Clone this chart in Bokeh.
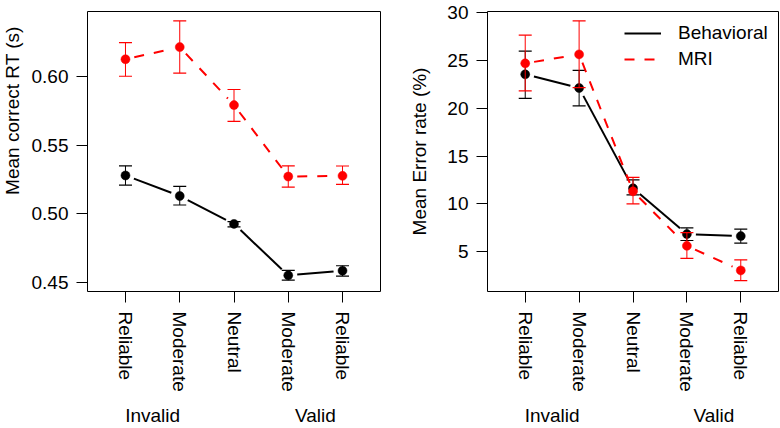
import math
from bokeh.plotting import figure
from bokeh.layouts import row
from bokeh.models import Range1d, FixedTicker, LinearAxis, Legend, LegendItem
from bokeh.core.properties import value
from bokeh.embed import file_html
from bokeh.resources import INLINE

# ---------------- data ----------------
positions = [1, 2, 3, 4, 5]
tick_labels = ["Reliable", "Moderate", "Neutral", "Moderate", "Reliable"]
group_labels = ["Invalid", "Valid"]
group_positions = [1.5, 4.5]

rt_beh = [0.528, 0.513, 0.4926, 0.455, 0.4584]
rt_beh_lo = [0.521, 0.5064, 0.4904, 0.4515, 0.4545]
rt_beh_hi = [0.535, 0.520, 0.4943, 0.4586, 0.462]
rt_mri = [0.6129, 0.6218, 0.5794, 0.5272, 0.5277]
rt_mri_lo = [0.6005, 0.6027, 0.5675, 0.5195, 0.5215]
rt_mri_hi = [0.625, 0.6409, 0.5908, 0.535, 0.5349]

err_beh = [23.56, 22.13, 11.63, 6.83, 6.62]
err_beh_lo = [21.05, 20.25, 10.93, 6.16, 5.89]
err_beh_hi = [25.99, 23.98, 12.5, 7.48, 7.35]
err_mri = [24.71, 25.65, 11.31, 5.6, 3.03]
err_mri_lo = [21.82, 22.17, 9.99, 4.28, 1.95]
err_mri_hi = [27.66, 29.16, 12.77, 6.99, 4.14]

rt_ticks = [0.45, 0.50, 0.55, 0.60]
rt_tick_labels = ["0.45", "0.50", "0.55", "0.60"]
err_ticks = [5, 10, 15, 20, 25, 30]
err_tick_labels = ["5", "10", "15", "20", "25", "30"]

series_names = ["Behavioral", "MRI"]
rt_title = "Mean correct RT (s)"
err_title = "Mean Error rate (%)"

FONT = "Liberation Sans"
FS = "19px"
X_RANGE = (0.3, 5.7)
GAP = 9
HEIGHT = 428
MB_TOP = 11
FRAME_H = 281.0
TITLE_W = 24


def gapped(xs, ys, sx, sy, gap):
    x0, y0, x1, y1 = [], [], [], []
    for i in range(len(xs) - 1):
        dx = (xs[i + 1] - xs[i]) * sx
        dy = (ys[i + 1] - ys[i]) * sy
        L = math.hypot(dx, dy)
        if L <= 2 * gap:
            continue
        f = gap / L
        x0.append(xs[i] + (xs[i + 1] - xs[i]) * f)
        y0.append(ys[i] + (ys[i + 1] - ys[i]) * f)
        x1.append(xs[i + 1] - (xs[i + 1] - xs[i]) * f)
        y1.append(ys[i + 1] - (ys[i + 1] - ys[i]) * f)
    return x0, y0, x1, y1


def panel(width, mb_left, mb_right, y_range, yticks, ylabels, ytitle,
          title_standoff, series, legend):
    frame_w = width - mb_left - mb_right
    p = figure(width=width, height=HEIGHT, output_backend="svg", toolbar_location=None,
               x_range=Range1d(*X_RANGE), y_range=Range1d(*y_range),
               min_border_left=mb_left, min_border_right=mb_right,
               min_border_top=MB_TOP, min_border_bottom=0,
               x_axis_type=None, y_axis_type=None)
    p.grid.visible = False
    p.outline_line_color = "black"
    p.outline_line_width = 1
    p.outline_line_alpha = 1
    p.background_fill_color = "white"
    p.border_fill_color = "white"

    # axes
    xa = LinearAxis(ticker=FixedTicker(ticks=positions),
                    major_label_overrides={v: t for v, t in zip(positions, tick_labels)})
    xa.major_label_orientation = "vertical"
    xa.major_label_standoff = 9
    xa.major_tick_out = 11
    xa.major_tick_in = 0
    xa.minor_tick_out = 0
    xa.minor_tick_in = 0
    xa.axis_line_color = None
    xa.major_tick_line_color = "black"
    xa.major_label_text_font = FONT
    xa.major_label_text_font_size = FS
    xa.major_label_text_color = "black"
    p.add_layout(xa, "below")

    ga = LinearAxis(ticker=FixedTicker(ticks=group_positions),
                    major_label_overrides={v: t for v, t in zip(group_positions, group_labels)})
    ga.major_label_standoff = 10
    ga.major_tick_out = 0
    ga.major_tick_in = 0
    ga.minor_tick_out = 0
    ga.minor_tick_in = 0
    ga.axis_line_color = None
    ga.major_tick_line_color = None
    ga.major_label_text_font = FONT
    ga.major_label_text_font_size = FS
    ga.major_label_text_color = "black"
    p.add_layout(ga, "below")

    ya = LinearAxis(ticker=FixedTicker(ticks=yticks),
                    major_label_overrides={v: t for v, t in zip(yticks, ylabels)})
    if ytitle:
        ya.axis_label = ytitle
    ya.major_label_orientation = "horizontal"
    ya.major_label_standoff = 8
    ya.major_tick_out = 11
    ya.major_tick_in = 0
    ya.minor_tick_out = 0
    ya.minor_tick_in = 0
    ya.axis_line_color = None
    ya.major_tick_line_color = "black"
    ya.major_label_text_font = FONT
    ya.major_label_text_font_size = FS
    ya.major_label_text_color = "black"
    ya.axis_label_text_font = FONT
    ya.axis_label_text_font_size = FS
    ya.axis_label_text_font_style = "normal"
    ya.axis_label_text_color = "black"
    ya.axis_label_standoff = title_standoff
    p.add_layout(ya, "left")

    # pixel scale of the frame (for the gaps of R's type="b" lines)
    sx = frame_w / (X_RANGE[1] - X_RANGE[0])
    sy = FRAME_H / (y_range[1] - y_range[0])

    items = []
    for name, (vals, lo, hi, color, dash) in zip(series_names, series):
        x0, y0, x1, y1 = gapped(positions, vals, sx, sy, GAP)
        seg = p.segment(x0=x0, y0=y0, x1=x1, y1=y1, line_color=color,
                        line_width=2, line_dash=dash)
        p.segment(x0=positions, y0=lo, x1=positions, y1=hi, line_color=color, line_width=1)
        p.scatter(x=positions, y=lo, marker="dash", size=13, line_color=color, line_width=1.2)
        p.scatter(x=positions, y=hi, marker="dash", size=13, line_color=color, line_width=1.2)
        p.scatter(x=positions, y=vals, marker="circle", size=9, fill_color=color,
                  line_color=color, line_width=0.5)
        items.append(LegendItem(label=name, renderers=[seg]))

    if legend:
        lg = Legend(items=items, location="top_right")
        lg.border_line_color = None
        lg.background_fill_alpha = 0
        lg.label_text_font = FONT
        lg.label_text_font_size = FS
        lg.label_text_color = "black"
        lg.glyph_width = 37
        lg.glyph_height = 24
        lg.label_height = 24
        lg.label_width = 90
        lg.spacing = 2
        lg.label_standoff = 17
        lg.padding = 7
        lg.margin = 10
        p.add_layout(lg)
    return p


# narrow strip holding the left y-axis title (R places it close to the edge)
tfig = figure(width=TITLE_W, height=HEIGHT, output_backend="svg", toolbar_location=None,
              x_range=Range1d(0, TITLE_W), y_range=Range1d(0, HEIGHT),
              min_border=0, x_axis_type=None, y_axis_type=None)
tfig.grid.visible = False
tfig.outline_line_color = None
tfig.background_fill_color = "white"
tfig.border_fill_color = "white"
tfig.text(x=[11.5], y=[HEIGHT - (MB_TOP + FRAME_H / 2)], text=[rt_title],
          angle=math.pi / 2, text_align="center", text_baseline="middle",
          text_font=value(FONT), text_font_size=value(FS), text_color="black")

left = panel(383 - TITLE_W, 87 - TITLE_W, 3, (0.4432, 0.6478), rt_ticks, rt_tick_labels,
             None, 0,
             [(rt_beh, rt_beh_lo, rt_beh_hi, "black", "solid"),
              (rt_mri, rt_mri_lo, rt_mri_hi, "red", "10 10")], False)
right = panel(397, 104, 2, (0.82, 30.14), err_ticks, err_tick_labels,
              err_title, 14,
              [(err_beh, err_beh_lo, err_beh_hi, "black", "solid"),
               (err_mri, err_mri_lo, err_mri_hi, "red", "10 10")], True)

layout = row(tfig, left, right)
open("out.html", "w").write(file_html(layout, INLINE))
